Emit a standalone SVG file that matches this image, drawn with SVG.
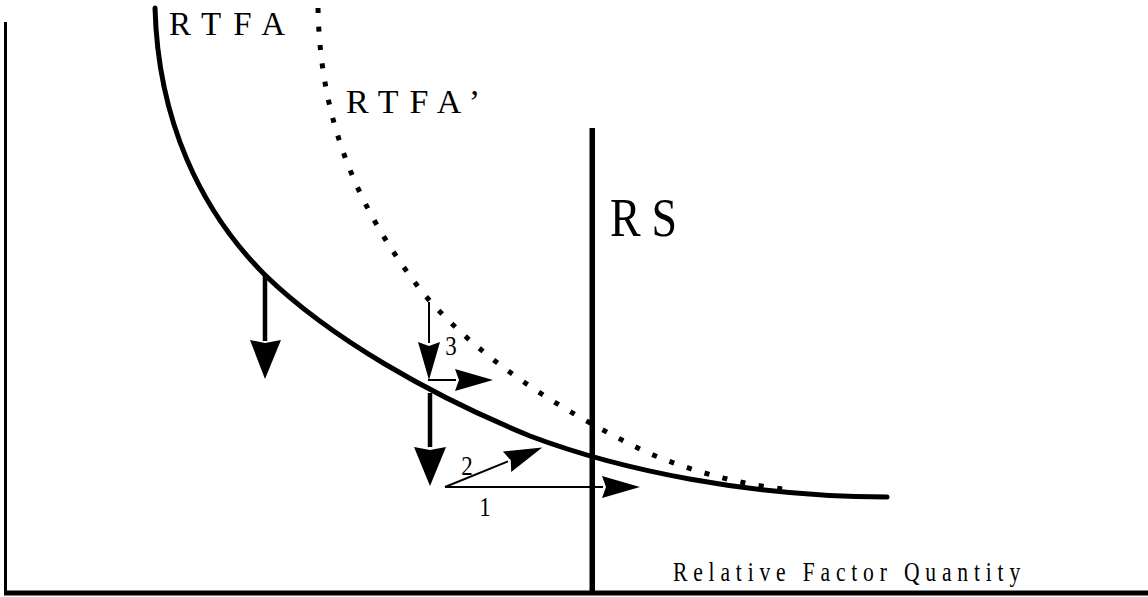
<svg xmlns="http://www.w3.org/2000/svg" width="1148" height="597" viewBox="0 0 1148 597">
<style>
  .lbl { font-family: "Liberation Serif", "Times New Roman", serif; fill: #000; }
  .axis { fill: #000; }
  .curve { fill: none; stroke: #000; stroke-width: 5; stroke-linecap: round; }
  .dotted { fill: none; stroke: #000; stroke-width: 5; stroke-dasharray: 5 13.5; stroke-linecap: butt; }
  .thick { stroke: #000; stroke-width: 4.5; fill: none; }
  .thin { stroke: #000; stroke-width: 2; fill: none; }
</style>
<defs>
  <marker id="headThin" markerUnits="userSpaceOnUse" markerWidth="42" markerHeight="26" viewBox="-2 -13 42 26" refX="1" refY="0" orient="auto">
    <path d="M0,-11 L38,0 L0,11 L4,0 Z" fill="#000"/>
  </marker>
</defs>
<rect width="1148" height="597" fill="#fff"/>

<g id="axes">
  <rect class="axis" x="4" y="22" width="3" height="573"/>
  <rect class="axis" x="4" y="590.5" width="1144" height="5"/>
</g>

<g id="rs">
  <rect class="axis" x="589.5" y="128" width="5.5" height="465"/>
  <text class="lbl" transform="translate(610,236) scale(0.85,1)" x="0" y="0" font-size="54" textLength="79" lengthAdjust="spacing">RS</text>
</g>

<g id="rtfa">
  <path class="curve" d="M155,8 C158,120 200,210 265,275 C330,338 430,395 530,436 C620,470 750,497 887,497"/>
  <text class="lbl" x="169" y="35" font-size="33" textLength="116" lengthAdjust="spacing">RTFA</text>
</g>

<g id="rtfa-prime">
  <path class="dotted" d="M318,8 C320,110 350,200 423,293 C480,360 560,410 646,452 C700,475 750,486 792,490"/>
  <text class="lbl" x="346" y="113" font-size="34" textLength="134" lengthAdjust="spacing">RTFA’</text>
</g>

<g id="connectors">
  <line class="thick" x1="265" y1="275" x2="265" y2="341"/>
  <line class="thick" x1="430" y1="393" x2="430" y2="447"/>
  <line class="thin" x1="429" y1="302" x2="429" y2="343" marker-end="url(#headThin)"/>
  <line class="thin" x1="428" y1="380" x2="456" y2="380" marker-end="url(#headThin)"/>
  <line class="thin" x1="445" y1="487" x2="508" y2="461.4" marker-end="url(#headThin)"/>
  <line class="thin" x1="445" y1="487" x2="603" y2="487" marker-end="url(#headThin)"/>
  <path d="M250,340 L265,379 L281,340 L265,343 Z" fill="#000"/>
  <path d="M414,447 L430,486 L446,447 L430,450 Z" fill="#000"/>
</g>

<g id="labels">
  <text class="lbl" transform="translate(451,355) scale(0.85,1)" font-size="27" text-anchor="middle">3</text>
  <text class="lbl" transform="translate(467,475) scale(0.85,1)" font-size="27" text-anchor="middle">2</text>
  <text class="lbl" transform="translate(485,516) scale(0.85,1)" font-size="27" text-anchor="middle">1</text>
  <text class="lbl" transform="translate(673,581) scale(0.8,1)" x="0" y="0" font-size="27" textLength="434" lengthAdjust="spacing">Relative Factor Quantity</text>
</g>
</svg>
